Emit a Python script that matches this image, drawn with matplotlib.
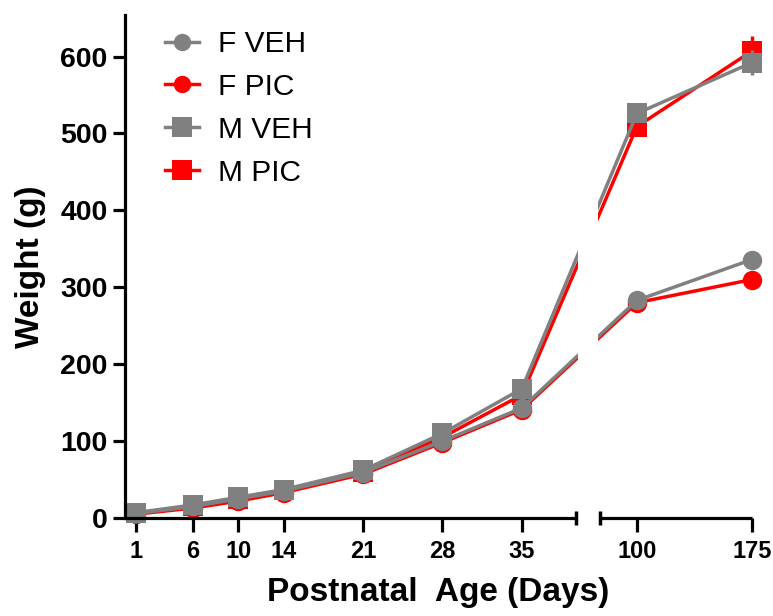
import numpy as np
import matplotlib
matplotlib.use('Agg')
import matplotlib.pyplot as plt
import matplotlib.transforms as mtransforms
from matplotlib.lines import Line2D

# postnatal age (days) and body weight (g)
days = [1, 6, 10, 14, 21, 28, 35, 100, 175]
f_veh = [6, 15, 25, 35, 59, 100, 143, 283, 336]
f_pic = [5, 13, 22, 33, 57, 98, 141, 280, 310]
m_veh = [7, 17, 27, 37, 62, 110, 168, 526, 592]
m_pic = [6, 16, 25, 36, 60, 105, 160, 509, 607]
f_veh_err = [0.3, 0.5, 0.8, 1, 1.5, 2, 3, 5, 7]
f_pic_err = [0.3, 0.5, 0.8, 1, 1.5, 2, 3, 5, 7]
m_veh_err = [0.3, 0.5, 0.8, 1, 1.5, 3, 4, 8, 16]
m_pic_err = [0.3, 0.5, 0.8, 1, 1.5, 3, 4, 8, 20]
xticks = [1, 6, 10, 14, 21, 28, 35, 100, 175]

# broken x axis: linear in days up to the break, compressed afterwards
LEFT_END = 39.77
RIGHT_START = 41.88
RIGHT_DAY0 = 75.8
RIGHT_SCALE = 0.1351

def xpos(d):
    d = np.asarray(d, dtype=float)
    return np.where(d <= LEFT_END, d, RIGHT_START + (d - RIGHT_DAY0) * RIGHT_SCALE)

plt.rcParams['font.family'] = ['Liberation Sans', 'DejaVu Sans']

fig = plt.figure(figsize=(7.73, 6.16), dpi=100)
ax = fig.add_axes([125/773, 1 - 518/616, (752-125)/773, (518-15)/616])

grey = '#808080'
red = '#ff0000'
lw = 2.5
series = [
    ('F PIC', f_pic, f_pic_err, red, 'o'),
    ('M PIC', m_pic, m_pic_err, red, 's'),
    ('F VEH', f_veh, f_veh_err, grey, 'o'),
    ('M VEH', m_veh, m_veh_err, grey, 's'),
]
handles = {}
x = xpos(days)
for i, (lab, vals, err, col, mk) in enumerate(series):
    ax.errorbar(x, vals, yerr=err, color=col, marker=mk, markersize=14,
                markeredgewidth=0, linewidth=lw, elinewidth=lw,
                capsize=7, capthick=lw, clip_on=False, zorder=2 + i * 0.1)
    # legend entry without the error bar
    handles[lab] = Line2D([], [], color=col, marker=mk, lw=lw,
                          markeredgewidth=0,
                          markersize=12.5 if mk == 'o' else 14.5)

# white gap over the lines at the axis break
ax.axvspan(LEFT_END + 0.2, RIGHT_START - 0.15, color='white', zorder=4, lw=0)

ax.set_xlim(0, 55.3)
ax.set_ylim(0, 654)

# axes styling
for s in ['top', 'right', 'bottom']:
    ax.spines[s].set_visible(False)
ax.spines['left'].set_linewidth(2.3)
trans = mtransforms.blended_transform_factory(ax.transData, ax.transAxes)
xmax = ax.get_xlim()[1]
ax.plot([0, LEFT_END], [0, 0], color='k', lw=2.3, transform=trans,
        clip_on=False, zorder=6, solid_capstyle='butt')
ax.plot([RIGHT_START, xmax], [0, 0], color='k', lw=2.3, transform=trans,
        clip_on=False, zorder=6, solid_capstyle='butt')
ax.plot([LEFT_END, RIGHT_START], [0, 0], linestyle='none', marker='|',
        markersize=9.5, markeredgewidth=2.5, color='k', transform=trans,
        clip_on=False, zorder=6)

ax.set_xticks(xpos(xticks))
ax.set_xticklabels([str(t) for t in xticks])
ax.set_yticks([0, 100, 200, 300, 400, 500, 600])
ax.tick_params(axis='x', direction='out', length=10, width=2.3, pad=6,
               labelsize=17)
ax.tick_params(axis='y', direction='out', length=9, width=2.3, pad=3.5,
               labelsize=20.5)
for t in ax.get_xticklabels() + ax.get_yticklabels():
    t.set_fontweight('bold')

ax.set_xlabel('Postnatal  Age (Days)', fontsize=24, fontweight='bold', labelpad=10)
ax.set_ylabel('Weight (g)', fontsize=24, fontweight='bold', labelpad=10)

order = ['F VEH', 'F PIC', 'M VEH', 'M PIC']
leg = ax.legend([handles[k] for k in order], order, loc='upper left',
                bbox_to_anchor=(165/773, 1 - 30/616),
                bbox_transform=fig.transFigure, frameon=False,
                fontsize=21.5, handlelength=1.13, handletextpad=0.63,
                labelspacing=0.5, borderpad=0, borderaxespad=0)

fig.savefig('out.png', dpi=100)
